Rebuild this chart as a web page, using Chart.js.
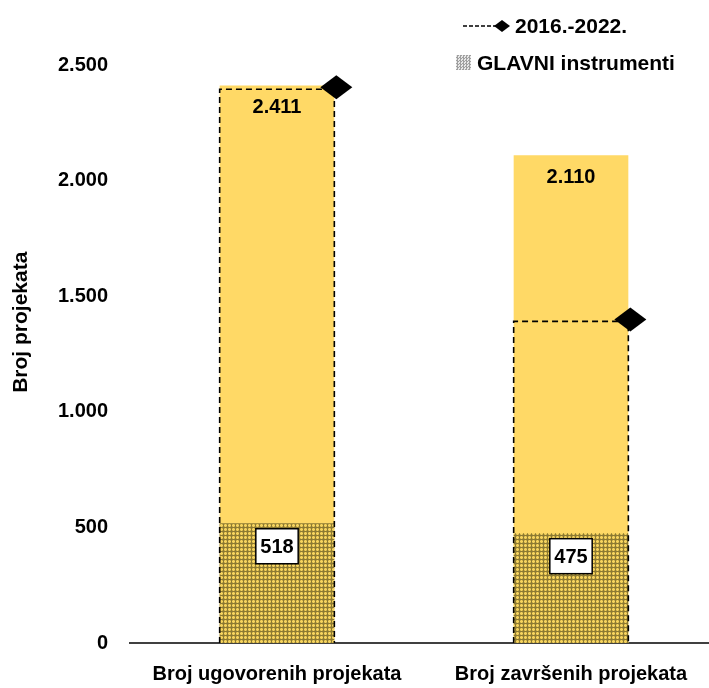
<!DOCTYPE html>
<html>
<head>
<meta charset="utf-8">
<script src="https://cdn.jsdelivr.net/npm/chart.js@4.4.0/dist/chart.umd.min.js"></script>
<style>
  html, body { margin: 0; padding: 0; background: #fff; overflow: hidden; }
  #wrap { position: relative; width: 720px; height: 688px; }
  #legend {
    position: absolute; left: 456px; top: 7px;
    font-family: "Liberation Sans", Arial, sans-serif;
    font-weight: bold; font-size: 21px; color: #000;
  }
  .row { display: flex; align-items: center; height: 37px; white-space: nowrap; }
  .row svg { margin-right: 3px; }
  .hatch {
    width: 15px; height: 15px; margin-right: 6px;
    background: repeating-conic-gradient(#a0a0a0 0 25%, #e8e8e8 0 50%) 0 0 / 3px 3px;
  }
</style>
</head>
<body>
<div id="wrap">
  <canvas id="myChart" width="720" height="688"></canvas>
  <div id="legend"></div>
</div>
<script>
const categories = ['Broj ugovorenih projekata', 'Broj završenih projekata'];
const totalValues = [2411, 2110];
const glavniValues = [518, 475];
const periodValues = [2395, 1391];
const yTicks = [0, 500, 1000, 1500, 2000, 2500];

const periodLabel = '2016.-2022.';
const glavniLabel = 'GLAVNI instrumenti';
const yTitle = 'Broj projekata';

const FONT = '"Liberation Sans", Arial, sans-serif';
const fmt = v => v.toLocaleString('de-DE');

// yellow dots on a dark olive grid, like the excel pattern fill
const makePattern = () => {
    const c = document.createElement('canvas');
    c.width = 4; c.height = 4;
    const g = c.getContext('2d');
    g.fillStyle = '#8c7932';
    g.fillRect(0, 0, 4, 4);
    g.fillStyle = '#f6d35e';
    g.fillRect(0, 0, 3, 3);
    g.fillStyle = '#c9ad48';
    [[0, 0], [2, 0], [0, 2], [2, 2]].forEach(p => g.fillRect(p[0], p[1], 1, 1));
    return g.createPattern(c, 'repeat');
};

const diamond = (ctx, x, y, hw, hh) => {
    ctx.beginPath();
    ctx.moveTo(x, y - hh);
    ctx.lineTo(x + hw, y);
    ctx.lineTo(x, y + hh);
    ctx.lineTo(x - hw, y);
    ctx.closePath();
    ctx.fill();
};

// dashed outline + diamond for the 2016-2022 series, value labels
const overlayPlugin = {
    id: 'overlay',
    afterDatasetsDraw(chart) {
        const ctx = chart.ctx;
        const periodMeta = chart.getDatasetMeta(2);
        ctx.save();
        ctx.strokeStyle = '#000';
        ctx.lineWidth = 1.6;
        ctx.setLineDash([6, 4]);
        periodMeta.data.forEach(bar => {
            const l = bar.x - bar.width / 2, r = bar.x + bar.width / 2;
            ctx.beginPath();
            ctx.moveTo(l, bar.base);
            ctx.lineTo(l, bar.y);
            ctx.lineTo(r, bar.y);
            ctx.lineTo(r, bar.base);
            ctx.stroke();
        });
        ctx.setLineDash([]);
        ctx.fillStyle = '#000';
        periodMeta.data.forEach(bar => diamond(ctx, bar.x + bar.width / 2 + 2, bar.y - 2, 16, 12));

        ctx.font = 'bold 20px ' + FONT;
        ctx.textAlign = 'center';
        ctx.textBaseline = 'middle';
        chart.getDatasetMeta(0).data.forEach((bar, i) => {
            ctx.fillStyle = '#000';
            ctx.fillText(fmt(totalValues[i]), bar.x, bar.y + 22);
        });
        chart.getDatasetMeta(1).data.forEach((bar, i) => {
            const txt = fmt(glavniValues[i]);
            const w = ctx.measureText(txt).width + 9, h = 35;
            const cy = bar.y + 23;
            ctx.fillStyle = '#fff';
            ctx.fillRect(bar.x - w / 2, cy - h / 2, w, h);
            ctx.strokeStyle = '#000';
            ctx.lineWidth = 1.5;
            ctx.strokeRect(bar.x - w / 2, cy - h / 2, w, h);
            ctx.fillStyle = '#000';
            ctx.fillText(txt, bar.x, cy + 1);
        });

        // y title, placed a bit above the middle like the original
        const area = chart.chartArea;
        ctx.translate(21, area.top + (area.bottom - area.top) * 0.445);
        ctx.rotate(-Math.PI / 2);
        ctx.font = 'bold 21px ' + FONT;
        ctx.fillText(yTitle, 0, 0);
        ctx.restore();
    }
};

const ctx = document.getElementById('myChart').getContext('2d');
const myChart = new Chart(ctx, {
    type: 'bar',
    data: {
        labels: categories,
        datasets: [
            {
                label: 'Ukupno',
                data: totalValues,
                backgroundColor: '#ffd966',
                borderWidth: 0,
                order: 3
            },
            {
                label: glavniLabel,
                data: glavniValues,
                backgroundColor: makePattern(),
                borderWidth: 0,
                order: 2
            },
            {
                label: periodLabel,
                data: periodValues,
                backgroundColor: 'rgba(0,0,0,0)',
                borderWidth: 0,
                order: 1
            }
        ]
    },
    options: {
        responsive: false,
        animation: false,
        events: [],
        devicePixelRatio: 1,
        layout: { padding: { top: 65, right: 2, bottom: 0, left: 0 } },
        datasets: { bar: { categoryPercentage: 1, barPercentage: 0.39 } },
        plugins: { legend: { display: false }, tooltip: { enabled: false } },
        scales: {
            x: {
                stacked: true,
                grid: { display: false, drawTicks: false },
                border: { color: '#404040', width: 2 },
                ticks: {
                    color: '#000', padding: 19, maxRotation: 0, minRotation: 0, autoSkip: false,
                    font: { family: FONT, size: 20, weight: 'bold' }
                },
                afterFit: s => { s.height = 45; s.paddingLeft = 0; s.paddingRight = 0; }
            },
            y: {
                stacked: false,
                min: 0,
                max: 2500,
                afterBuildTicks: s => { s.ticks = yTicks.map(v => ({ value: v })); },
                grid: { display: false, drawTicks: false },
                border: { display: false },
                ticks: {
                    color: '#000', padding: 22,
                    font: { family: FONT, size: 20, weight: 'bold' },
                    callback: v => fmt(v)
                },
                afterFit: s => { s.width = 130; s.paddingTop = 0; s.paddingBottom = 0; }
            }
        }
    },
    plugins: [overlayPlugin]
});

// legend: only the two named series, as in the original
const legend = document.getElementById('legend');
legend.innerHTML =
    '<div class="row"><svg width="56" height="24">' +
    '<line x1="7" y1="12" x2="40" y2="12" stroke="#000" stroke-width="1.5" stroke-dasharray="4,2"/>' +
    '<polygon points="46,6 54,12 46,18 38,12" fill="#000"/></svg>' + periodLabel + '</div>' +
    '<div class="row"><div class="hatch"></div>' + glavniLabel + '</div>';
</script>
</body>
</html>
